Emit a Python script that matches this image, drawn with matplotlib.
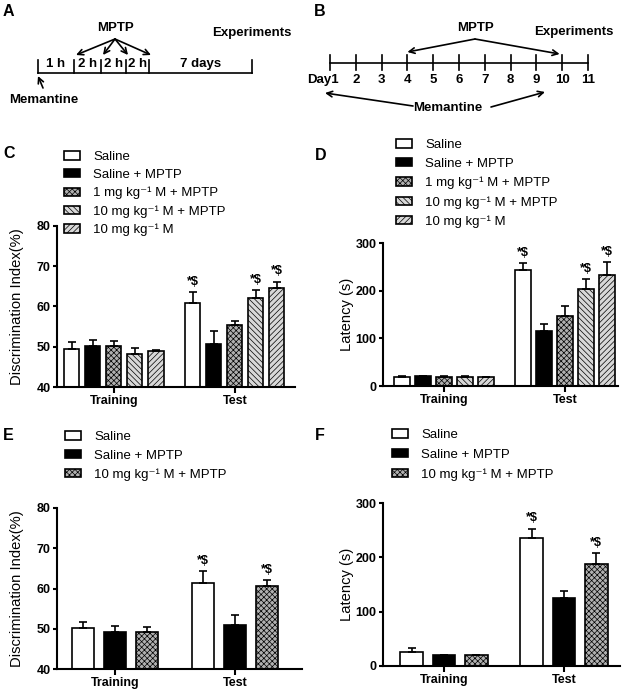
import numpy as np
import matplotlib.pyplot as plt

plt.rcParams['font.family'] = ['Liberation Sans', 'DejaVu Sans']
plt.rcParams['hatch.linewidth'] = 0.5

W, H = 630, 693

# ---- data ----
groups = ['Training', 'Test']
labels5 = ['Saline', 'Saline + MPTP', '1 mg kg⁻¹ M + MPTP',
           '10 mg kg⁻¹ M + MPTP', '10 mg kg⁻¹ M']
labels3 = ['Saline', 'Saline + MPTP', '10 mg kg⁻¹ M + MPTP']

# C: discrimination index (%), rows = Training / Test
c_mean = [[49.5, 50.3, 50.2, 48.2, 48.9], [60.8, 50.7, 55.3, 62.1, 64.7]]
c_err = [[1.6, 1.5, 1.2, 1.5, 0.4], [2.8, 3.3, 1.0, 2.0, 1.5]]
c_sig = [[0, 0, 0, 0, 0], [1, 0, 0, 1, 1]]

# D: latency (s)
d_mean = [[19, 20, 19, 19, 18], [243, 115, 147, 204, 233]]
d_err = [[3, 1, 1, 1, 1], [15, 15, 20, 21, 27]]
d_sig = [[0, 0, 0, 0, 0], [1, 0, 0, 1, 1]]

# E: discrimination index (%)
e_mean = [[50.2, 49.1, 49.2], [61.3, 50.9, 60.5]]
e_err = [[1.5, 1.6, 1.2], [3.0, 2.6, 1.6]]
e_sig = [[0, 0, 0], [1, 0, 1]]

# F: latency (s)
f_mean = [[25, 20, 20], [235, 125, 188]]
f_err = [[8, 1, 1], [18, 13, 20]]
f_sig = [[0, 0, 0], [1, 0, 1]]

# schematic A
a_segments = ['1 h', '2 h', '2 h', '2 h', '7 days']
# schematic B
b_days = list(range(1, 12))

# ---- styles ----
white = dict(fc='white', hatch=None)
black = dict(fc='black', hatch=None)
dots = dict(fc='#b0b0b0', hatch='xxxxxx')
back = dict(fc='#d8d8d8', hatch='\\\\\\\\\\\\')
fwd = dict(fc='#d8d8d8', hatch='//////')
styles5 = [white, black, dots, back, fwd]
styles3 = [white, black, dots]

FS = 9
LFS = 9.5


def px_axes(l, t, r, b):
    return [l / W, 1 - b / H, (r - l) / W, (b - t) / H]


def draw_panel(rect, means, errs, sigs, styles, labels, spacing, width,
               xlim, ylim, yticks, ylabel, lpad, leg_xy, leg_sp):
    ax = fig.add_axes(px_axes(*rect))
    n = len(styles)
    x = np.arange(len(groups))
    offs = (np.arange(n) - (n - 1) / 2) * spacing
    handles = []
    for i, st in enumerate(styles):
        m = np.array([means[g][i] for g in range(len(groups))])
        e = np.array([errs[g][i] for g in range(len(groups))])
        b = ax.bar(x + offs[i], m, width, yerr=[np.zeros_like(e), e],
                   color=st['fc'], hatch=st['hatch'], edgecolor='black',
                   linewidth=1.2,
                   error_kw=dict(elinewidth=1.2, capsize=3, capthick=1.2,
                                 ecolor='black'))
        handles.append(b)
        for g in range(len(groups)):
            if sigs[g][i]:
                ax.annotate(r'*\$', (x[g] + offs[i], m[g] + e[g]),
                            xytext=(0, 3), textcoords='offset points',
                            ha='center', va='bottom', fontsize=FS,
                            fontweight='bold')
    ax.set_xlim(*xlim)
    ax.set_ylim(*ylim)
    ax.set_yticks(yticks)
    ax.set_xticks(x)
    ax.set_xticklabels(groups, fontweight='bold', fontsize=FS)
    for t in ax.get_yticklabels():
        t.set_fontweight('bold')
        t.set_fontsize(FS)
    ax.spines['top'].set_visible(False)
    ax.spines['right'].set_visible(False)
    ax.spines['left'].set_linewidth(1.5)
    ax.spines['bottom'].set_linewidth(1.5)
    ax.tick_params(axis='x', length=4, width=1.5, pad=2)
    ax.tick_params(axis='y', length=3, width=1.5, pad=1.5)
    ax.set_ylabel(ylabel, fontsize=10.6, labelpad=lpad)
    fig.legend(handles, labels, loc='upper left',
               bbox_to_anchor=(leg_xy[0] / W, 1 - leg_xy[1] / H),
               frameon=False, fontsize=LFS, handlelength=1.2,
               handleheight=0.6, labelspacing=leg_sp, handletextpad=1.0,
               borderpad=0, borderaxespad=0)
    return ax


fig = plt.figure(figsize=(W / 100, H / 100), dpi=100)

# overlay in pixel coordinates for schematics and panel letters
ov = fig.add_axes([0, 0, 1, 1])
ov.set_xlim(0, W)
ov.set_ylim(H, 0)
ov.set_axis_off()

for lab, (lx, ly) in zip('ABCDEF', [(3, 12), (314, 12), (3, 154),
                                     (315, 156), (3, 436), (315, 436)]):
    ov.text(lx, ly, lab, fontsize=11.5, fontweight='bold', ha='left',
            va='center')

kw = dict(fontsize=9.5, fontweight='bold', ha='center', va='center')
arrow = dict(arrowstyle='->', lw=1.2, color='black', shrinkA=0, shrinkB=0,
             mutation_scale=10)

# --- A ---
a_ticks = [38, 74, 101, 126, 149, 252]
ov.plot([a_ticks[0], a_ticks[-1]], [73, 73], color='black', lw=1.2)
for tx in a_ticks:
    ov.plot([tx, tx], [73, 60], color='black', lw=1.2)
for s, l, r in zip(a_segments, a_ticks[:-1], a_ticks[1:]):
    ov.text((l + r) / 2, 64, s, **kw)
ov.text(115, 28, 'MPTP', **kw)
for tx in a_ticks[1:5]:
    ov.annotate('', xy=(tx + 2, 55), xytext=(115, 39), arrowprops=arrow)
ov.text(252, 33, 'Experiments', **kw)
ov.text(44, 100, 'Memantine', **kw)
ov.annotate('', xy=(38, 76), xytext=(43, 88), arrowprops=arrow)

# --- B ---
def day_px(d):
    return 330 + (d - 1) * 25.8

ov.plot([day_px(b_days[0]), day_px(b_days[-1])], [63, 63], color='black',
        lw=1.2)
for d in b_days:
    ov.plot([day_px(d), day_px(d)], [55, 70], color='black', lw=1.2)
    if d == 1:
        ov.text(day_px(d) + 9, 80, 'Day1', fontsize=9.5, fontweight='bold',
                ha='right', va='center')
    else:
        ov.text(day_px(d), 80, str(d), **kw)
ov.text(475, 28, 'MPTP', **kw)
ov.annotate('', xy=(day_px(4), 52), xytext=(475, 39), arrowprops=arrow)
ov.annotate('', xy=(day_px(9.9), 54), xytext=(475, 39), arrowprops=arrow)
ov.text(574, 32, 'Experiments', **kw)
ov.text(448, 108, 'Memantine', **kw)
ov.annotate('', xy=(325, 93), xytext=(413, 106), arrowprops=arrow)
ov.annotate('', xy=(545, 92), xytext=(491, 107), arrowprops=arrow)

# --- bar panels ---
draw_panel((57, 226, 295, 387), c_mean, c_err, c_sig, styles5, labels5,
           0.1736, 0.124, (-0.471, 1.496), (40, 80), [40, 50, 60, 70, 80],
           'Discrimination Index(%)', 9, (64, 151), 0.45)
draw_panel((383, 243, 618, 386), d_mean, d_err, d_sig, styles5, labels5,
           0.1736, 0.13, (-0.504, 1.438), (0, 300), [0, 100, 200, 300],
           'Latency (s)', 1, (396, 139), 0.52)
draw_panel((57, 508, 302, 669), e_mean, e_err, e_sig, styles3, labels3,
           0.267, 0.19, (-0.483, 1.558), (40, 80), [40, 50, 60, 70, 80],
           'Discrimination Index(%)', 9, (65, 431), 0.5)
draw_panel((383, 503, 620, 666), f_mean, f_err, f_sig, styles3, labels3,
           0.27, 0.19, (-0.508, 1.467), (0, 300), [0, 100, 200, 300],
           'Latency (s)', 1, (392, 429), 0.58)

fig.savefig('out.png', dpi=100)
